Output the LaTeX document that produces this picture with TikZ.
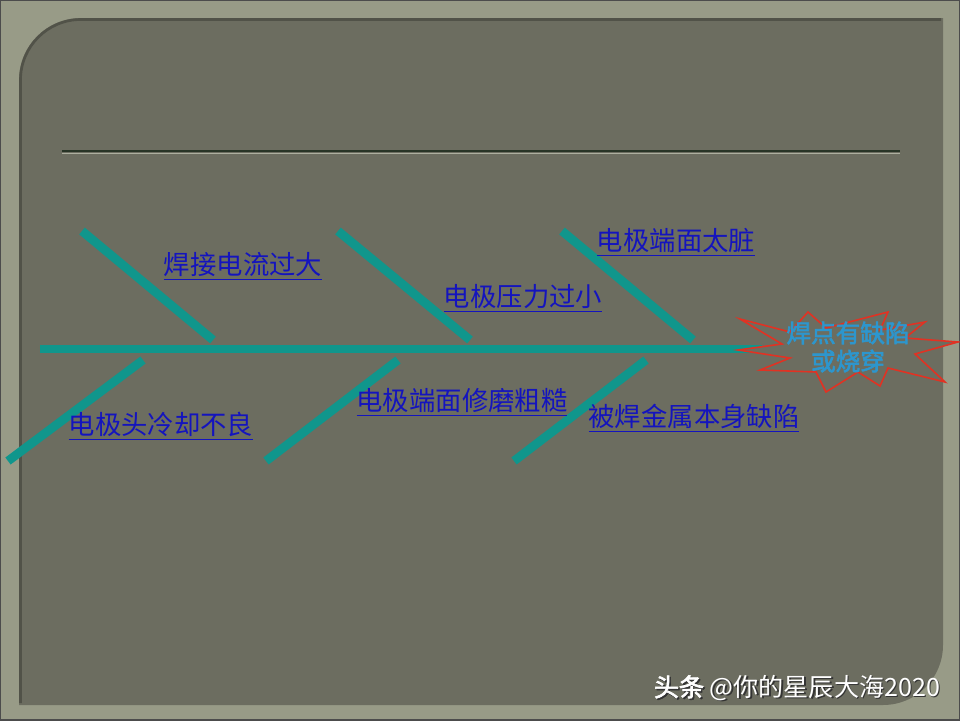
\documentclass[tikz,border=0pt]{standalone}
\usepackage{fontspec}
\newfontfamily\cjk{Noto Sans CJK SC}
\newfontfamily\cjkbold{Noto Sans CJK SC}[FakeBold=2.5]
\usetikzlibrary{positioning}

\definecolor{framegray}{RGB}{152,155,135}
\definecolor{panelgray}{RGB}{108,109,96}
\definecolor{fishteal}{RGB}{16,150,140}
\definecolor{causeblue}{RGB}{20,20,190}
\definecolor{effectblue}{RGB}{45,150,205}
\definecolor{starred}{RGB}{225,50,35}
\definecolor{ruledark}{RGB}{40,52,38}

\begin{document}
\begin{tikzpicture}[x=0.02cm,y=-0.02cm,
  bone/.style={line width=5pt,color=fishteal},
  cause/.style={font=\cjk\fontsize{15}{18}\selectfont,text=causeblue,inner sep=0pt}]
  \useasboundingbox (0,0) rectangle (960,720);

  % --- Slide background ---
  \fill[framegray] (0,0) rectangle (960,720);
  \draw[black!70,line width=1pt] (0,0) rectangle (960,720);
  \fill[panelgray] (19,705) -- (19,80) arc[start angle=180,end angle=270,radius=62]
    -- (943,18) -- (943,645) arc[start angle=0,end angle=90,radius=60] -- cycle;
  \draw[black!25!panelgray,line width=1.5pt] (20.5,703) -- (20.5,80)
    arc[start angle=180,end angle=270,radius=60.5] -- (941,19.5);

  % --- Title rule ---
  \draw[ruledark,line width=1.2pt] (62,151) -- (900,151);
  \draw[framegray!80!white,line width=0.6pt] (62,153.2) -- (900,153.2);

  % --- Spine and head ---
  \coordinate (tail) at (40,349);
  \coordinate (head) at (762,349);
  \draw[bone] (tail) -- (head);

  \draw[starred,line width=0.9pt,fill=panelgray]
    (740,319) -- (790,332) -- (808,312) -- (826,328) -- (888,312) -- (880,330)
    -- (925,322) -- (905,338) -- (958,342) -- (915,354) -- (945,382) -- (888,368)
    -- (880,386) -- (858,372) -- (826,392) -- (816,372) -- (760,370) -- (790,358)
    -- (738,350) -- (782,344) -- cycle;
  \node (effect) [font=\cjkbold\fontsize{14}{16}\selectfont,text=effectblue,
    align=center,inner sep=0pt] at (848,347) {焊点有缺陷\\或烧穿};

  % --- Upper bones ---
  \coordinate (u1a) at (82,231);  \coordinate (u1b) at (213,340);
  \coordinate (u2a) at (338,231); \coordinate (u2b) at (470,340);
  \coordinate (u3a) at (562,231); \coordinate (u3b) at (693,340);
  \draw[bone] (u1a) -- (u1b);
  \draw[bone] (u2a) -- (u2b);
  \draw[bone] (u3a) -- (u3b);

  % --- Lower bones ---
  \coordinate (d1a) at (143,360); \coordinate (d1b) at (8,461);
  \coordinate (d2a) at (398,360); \coordinate (d2b) at (266,461);
  \coordinate (d3a) at (646,360); \coordinate (d3b) at (514,461);
  \draw[bone] (d1a) -- (d1b);
  \draw[bone] (d2a) -- (d2b);
  \draw[bone] (d3a) -- (d3b);

  % --- Cause labels ---
  \node (current) [cause] at (243,266) {\underline{焊接电流过大}};
  \node (force)   [cause] at (523,298) {\underline{电极压力过小}};
  \node (dirty)   [cause] at (676,242) {\underline{电极端面太脏}};
  \node (cooling) [cause] at (161,426) {\underline{电极头冷却不良}};
  \node (dressing)[cause] at (462,402) {\underline{电极端面修磨粗糙}};
  \node (metal)   [cause] at (694,418) {\underline{被焊金属本身缺陷}};

  % --- Watermark ---
  \node (markshadow) [font=\cjk\fontsize{14.3}{16}\selectfont,text=black!80,inner sep=0pt]
    at (798.5,689.5) {{\cjkbold 头条} @你的星辰大海2020};
  \node (mark) [font=\cjk\fontsize{14.3}{16}\selectfont,text=white,inner sep=0pt]
    at (797,688) {{\cjkbold 头条} @你的星辰大海2020};
\end{tikzpicture}
\end{document}
